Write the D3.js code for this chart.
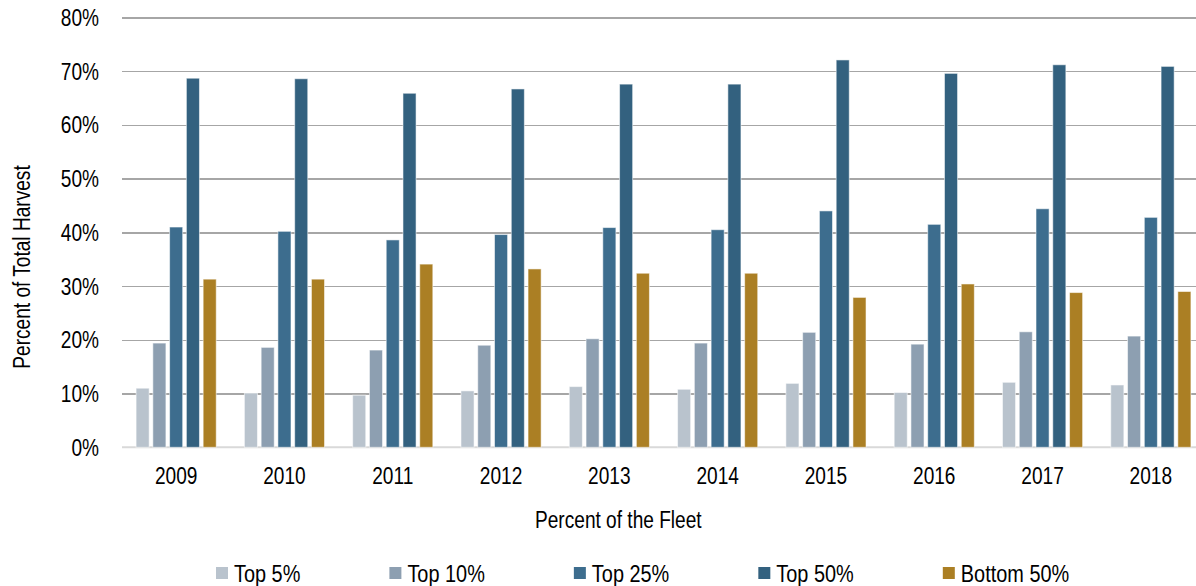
<!DOCTYPE html>
<html>
<meta charset="utf-8" />
<script src="https://cdn.jsdelivr.net/npm/d3@7"></script>
<style>
  html, body { margin: 0; padding: 0; background: #fff; }
  svg text { font-family: 'Liberation Sans Narrow', 'Liberation Sans', Arial, sans-serif; fill: #000; }
  .grid line { stroke: #a6a6a6; stroke-width: 1.5px; shape-rendering: crispEdges; }
  .grid .domain { display: none; }
</style>
<body>
<div id="chart"></div>
<script>
  // data
  var years = ['2009', '2010', '2011', '2012', '2013', '2014', '2015', '2016', '2017', '2018'];
  var seriesNames = ['Top 5%', 'Top 10%', 'Top 25%', 'Top 50%', 'Bottom 50%'];
  var top5 = [11.0, 10.1, 9.7, 10.5, 11.3, 10.8, 11.9, 10.2, 12.1, 11.6];
  var top10 = [19.4, 18.6, 18.1, 19.0, 20.2, 19.4, 21.4, 19.2, 21.5, 20.7];
  var top25 = [41.0, 40.2, 38.6, 39.6, 40.9, 40.5, 44.0, 41.5, 44.4, 42.8];
  var top50 = [68.7, 68.6, 65.9, 66.7, 67.6, 67.6, 72.1, 69.6, 71.2, 70.9];
  var bottom50 = [31.3, 31.3, 34.1, 33.2, 32.4, 32.4, 27.9, 30.4, 28.8, 29.0];
  var yTicks = [0, 10, 20, 30, 40, 50, 60, 70, 80];
  var colors = ['#b9c3cd', '#8d9fb1', '#3d6d8e', '#33617f', '#ab7f24'];

  var values = [top5, top10, top25, top50, bottom50];
  var rows = years.map(function (y, i) {
    var r = { year: y };
    seriesNames.forEach(function (s, j) { r[s] = values[j][i]; });
    return r;
  });

  var W = 1196, H = 586;
  var fontSize = 23.5;
  var svg = d3.select('#chart').append('svg').attr('width', W).attr('height', H);

  // check whether the narrow face is there, else squeeze regular text
  var probe = svg.append('text').style('font-size', fontSize + 'px').text('2009');
  var probeW = probe.node().getComputedTextLength();
  probe.remove();
  var sx = probeW > 46 ? 42.5 / probeW : 1;

  var x0 = d3.scaleBand().domain(years).range([122, 1205]).paddingInner(0.26).paddingOuter(0.13);
  var x1 = d3.scaleBand().domain(seriesNames).range([0, x0.bandwidth()]).paddingInner(0.22).paddingOuter(0);
  var y = d3.scaleLinear().domain([0, 80]).range([447.3, 17.5]);

  // gridlines
  svg.append('g').attr('class', 'grid').attr('transform', 'translate(122,0)')
    .call(d3.axisLeft(y).tickValues(yTicks.slice(1)).tickSize(-(1205 - 122)).tickFormat(''));

  // baseline
  svg.append('line')
    .attr('x1', 122).attr('x2', 1205).attr('y1', y(0)).attr('y2', y(0))
    .attr('stroke', '#d9d9d9').attr('stroke-width', 2);

  // y tick labels
  svg.append('g').selectAll('text').data(yTicks).enter().append('text')
    .attr('transform', function (d) { return 'translate(99,' + (y(d) + fontSize * 0.36) + ') scale(' + sx + ',1)'; })
    .attr('text-anchor', 'end')
    .style('font-size', fontSize + 'px')
    .text(function (d) { return d + '%'; });

  // bars
  var groups = svg.append('g').selectAll('g').data(rows).enter().append('g')
    .attr('transform', function (d) { return 'translate(' + x0(d.year) + ',0)'; });

  groups.selectAll('rect')
    .data(function (d) { return seriesNames.map(function (s) { return { key: s, value: d[s] }; }); })
    .enter().append('rect')
    .attr('x', function (d) { return x1(d.key); })
    .attr('y', function (d) { return y(d.value); })
    .attr('width', x1.bandwidth())
    .attr('height', function (d) { return y(0) - y(d.value); })
    .attr('fill', function (d, i) { return colors[i]; })
    .attr('stroke', '#ffffff')
    .attr('stroke-opacity', 0.55)
    .attr('stroke-width', 1);

  // x tick labels
  svg.append('g').selectAll('text').data(years).enter().append('text')
    .attr('transform', function (d) { return 'translate(' + (x0(d) + x0.bandwidth() / 2) + ',484) scale(' + sx + ',1)'; })
    .attr('text-anchor', 'middle')
    .style('font-size', fontSize + 'px')
    .text(function (d) { return d; });

  // axis titles
  svg.append('text')
    .attr('transform', 'translate(535,528) scale(' + sx + ',1)')
    .attr('text-anchor', 'start')
    .style('font-size', fontSize + 'px')
    .text('Percent of the Fleet');

  svg.append('text')
    .attr('transform', 'translate(30,267) rotate(-90) scale(' + sx + ',1)')
    .attr('text-anchor', 'middle')
    .style('font-size', fontSize + 'px')
    .text('Percent of Total Harvest');

  // legend
  var legendSize = 24.5;
  var legend = svg.append('g').attr('class', 'legend');
  var lx = 216;
  seriesNames.forEach(function (s, i) {
    var item = legend.append('g').attr('transform', 'translate(' + lx + ',0)');
    item.append('rect').attr('x', 0).attr('y', 567).attr('width', 12).attr('height', 12).attr('fill', colors[i]);
    var t = item.append('text')
      .attr('transform', 'translate(18,581.5) scale(' + sx + ',1)')
      .style('font-size', legendSize + 'px')
      .text(s);
    var tw = t.node().getComputedTextLength() * sx;
    lx += 18 + tw + 89;
  });
</script>
</body>
</html>
